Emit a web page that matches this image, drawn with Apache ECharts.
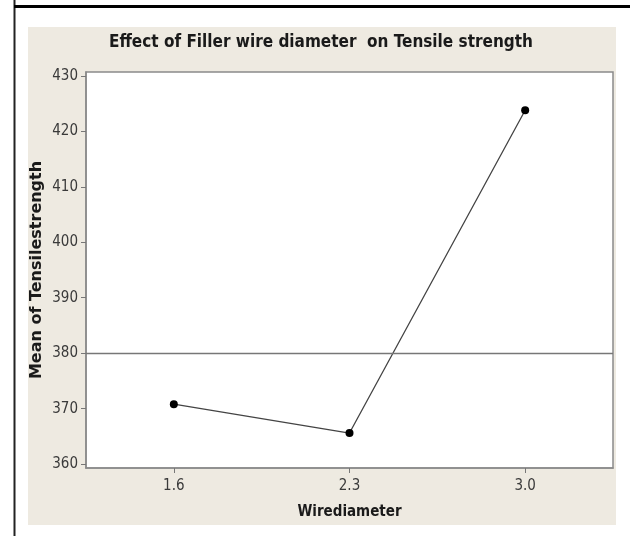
<!DOCTYPE html>
<html>
<head>
<meta charset="utf-8">
<script src="https://cdn.jsdelivr.net/npm/echarts@6/dist/echarts.min.js"></script>
<style>
html,body{margin:0;padding:0;background:#fff;}
#chart{width:630px;height:536px;}
</style>
</head>
<body>
<div id="chart"></div>
<script>
const categories = ['1.6', '2.3', '3.0'];
const meanValues = [370.8, 365.6, 423.8];
const referenceMean = 380;
const yTicks = [360, 370, 380, 390, 400, 410, 420, 430];

const chart = echarts.init(document.getElementById('chart'), null, {renderer: 'canvas'});
const narrow = '"DejaVu Sans Condensed", "Liberation Sans Narrow", sans-serif';

chart.setOption({
  backgroundColor: '#ffffff',
  animation: false,
  graphic: [
    {type: 'rect', z: -10, shape: {x: 28, y: 27, width: 588, height: 498}, style: {fill: '#EEEAE1'}},
    {type: 'line', z: 10, shape: {x1: 14.5, y1: 0, x2: 14.5, y2: 536}, style: {stroke: '#222', lineWidth: 2}},
    {type: 'line', z: 10, shape: {x1: 14, y1: 6.5, x2: 630, y2: 6.5}, style: {stroke: '#000', lineWidth: 3}}
  ],
  title: {
    text: 'Effect of Filler wire diameter  on Tensile strength',
    left: 104,
    top: 29,
    textStyle: {fontFamily: narrow, fontWeight: 'bold', fontSize: 17, color: '#1a1a1a'}
  },
  grid: {
    left: 86, right: 17, top: 72, bottom: 68,
    show: true, backgroundColor: '#ffffff', borderColor: '#8a8a8a', borderWidth: 1.5
  },
  xAxis: {
    type: 'category',
    data: categories,
    boundaryGap: true,
    axisLine: {show: true, lineStyle: {color: '#8a8a8a', width: 1.5}},
    axisTick: {show: true, alignWithLabel: true, length: 5, lineStyle: {color: '#777'}},
    axisLabel: {margin: 11, color: '#3a3a3a', fontFamily: narrow, fontSize: 15},
    splitLine: {show: false},
    name: 'Wirediameter',
    nameLocation: 'middle',
    nameGap: 37,
    nameTextStyle: {fontFamily: narrow, fontWeight: 'bold', fontSize: 15, color: '#1a1a1a'}
  },
  yAxis: {
    type: 'value',
    min: 359.3,
    max: 430.7,
    axisLine: {show: true, lineStyle: {color: '#8a8a8a', width: 1.5}},
    axisTick: {show: true, length: 5, customValues: yTicks, lineStyle: {color: '#777'}},
    axisLabel: {margin: 8, color: '#3a3a3a', fontFamily: narrow, fontSize: 15, customValues: yTicks},
    splitLine: {show: false},
    name: 'Mean of Tensilestrength',
    nameLocation: 'middle',
    nameGap: 41,
    nameMoveOverlap: false,
    nameRotate: 90,
    nameTextStyle: {fontFamily: '"DejaVu Sans", sans-serif', fontWeight: 'bold', fontSize: 16, color: '#1a1a1a'}
  },
  series: [{
    type: 'line',
    data: meanValues,
    symbol: 'circle',
    symbolSize: 8,
    itemStyle: {color: '#000'},
    lineStyle: {color: '#444', width: 1.3},
    markLine: {
      silent: true,
      symbol: ['none', 'none'],
      label: {show: false},
      lineStyle: {color: '#777', width: 1.3, type: 'solid'},
      data: [{yAxis: referenceMean}]
    }
  }]
});
</script>
</body>
</html>
